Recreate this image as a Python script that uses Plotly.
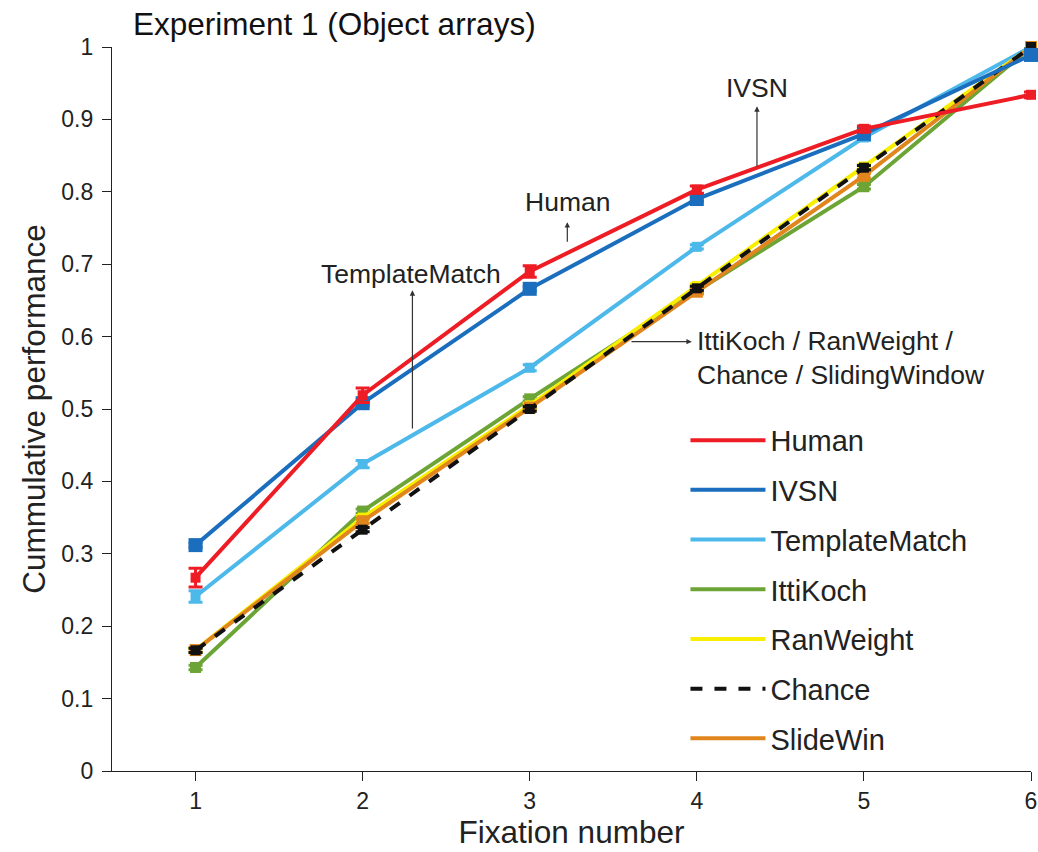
import plotly.graph_objects as go

fixation = [1, 2, 3, 4, 5, 6]
human = [0.267, 0.519, 0.690, 0.803, 0.887, 0.934]
human_err = [0.013, 0.010, 0.008, 0.005, 0.004, 0.004]
ivsn = [0.312, 0.508, 0.666, 0.790, 0.880, 0.989]
template = [0.241, 0.424, 0.557, 0.724, 0.875, 1.0]
template_err = [0.008, 0.005, 0.004, 0.003, 0.004, 0.0]
itti = [0.143, 0.359, 0.514, 0.663, 0.807, 1.0]
ranweight = [0.167, 0.350, 0.505, 0.670, 0.835, 1.0]
chance = [0.1667, 0.3333, 0.5, 0.6667, 0.8333, 1.0]
slidewin = [0.167, 0.345, 0.502, 0.662, 0.822, 1.0]

series = [
    ("TemplateMatch", template, template_err, "#4db8ea", "solid", 3, 10),
    ("IttiKoch", itti, None, "#6ca535", "solid", 4, 11),
    ("RanWeight", ranweight, None, "#f7ee00", "solid", 5, 10),
    ("SlideWin", slidewin, None, "#e0861c", "solid", 7, 12),
    ("Chance", chance, None, "#111111", "dash", 6, 10),
    ("IVSN", ivsn, None, "#1b6ebd", "solid", 2, 14),
    ("Human", human, human_err, "#ee1c24", "solid", 1, 10),
]

fig = go.Figure()
for name, vals, err, col, dash, rank, msize in series:
    fig.add_trace(go.Scatter(
        x=fixation, y=vals, mode="lines", name=name,
        line=dict(color=col, width=4, dash=dash),
        legendrank=rank, legendgroup=name, cliponaxis=False,
    ))
    fig.add_trace(go.Scatter(
        x=fixation, y=vals, mode="markers", showlegend=False,
        marker=dict(symbol="square", size=msize, color=col),
        error_y=dict(type="data", array=err if err else [0.003] * 6,
                     color=col, thickness=3, width=7),
        legendgroup=name, cliponaxis=False, hoverinfo="skip",
    ))

font = "Liberation Sans, Arial, sans-serif"

ann_font = dict(family=font, size=26.5, color="#222")
arrows = [
    # text, text x, text y, tail x, tail y, tip x, tip y
    ("IVSN", 4.36, 0.943, 4.36, 0.833, 4.36, 0.918),
    ("Human", 3.225, 0.786, 3.225, 0.729, 3.225, 0.758),
    ("TemplateMatch", 2.29, 0.686, 2.298, 0.471, 2.298, 0.664),
]
for txt, tx, ty, x0, y0, x1, y1 in arrows:
    fig.add_annotation(x=tx, y=ty, text=txt, showarrow=False, font=ann_font,
                       xanchor="center", yanchor="middle")
    fig.add_annotation(x=x1, y=y1, ax=x0, ay=y0, xref="x", yref="y",
                       axref="x", ayref="y", text="", showarrow=True,
                       arrowhead=2, arrowsize=0.9, arrowwidth=1.2, arrowcolor="#333")

fig.add_annotation(x=3.99, y=0.571,
                   text="IttiKoch / RanWeight /<br>Chance / SlidingWindow",
                   showarrow=False, font=ann_font, xanchor="left", yanchor="middle",
                   align="left")
fig.add_annotation(x=3.97, y=0.593, ax=3.60, ay=0.593, xref="x", yref="y",
                   axref="x", ayref="y", text="", showarrow=True,
                   arrowhead=2, arrowsize=0.9, arrowwidth=1.2, arrowcolor="#333")

fig.update_layout(
    width=1038, height=852,
    margin=dict(l=112, r=7, t=47, b=81),
    paper_bgcolor="white", plot_bgcolor="white",
    font=dict(family=font, size=22, color="#222"),
    title=dict(text="Experiment 1 (Object arrays)", x=133 / 1038, xanchor="left",
               y=1 - 24 / 852, yanchor="middle", font=dict(size=31.5, color="#111")),
    showlegend=True,
    legend=dict(x=0.624, y=0.492, xanchor="left", yanchor="top",
                font=dict(size=29, color="#222"), bgcolor="rgba(0,0,0,0)",
                traceorder="grouped", tracegroupgap=9, itemwidth=75),
    xaxis=dict(range=[0.5, 6], tickvals=fixation, showgrid=False, zeroline=False,
               showline=True, linecolor="#222", linewidth=1.2, ticks="outside",
               ticklen=9, tickcolor="#222", tickfont=dict(size=23), automargin=False,
               title=dict(text="Fixation number", font=dict(size=31.5), standoff=6)),
    yaxis=dict(range=[0, 1], tickvals=[i / 10 for i in range(11)],
               ticktext=["0"] + [f"0.{i}" for i in range(1, 10)] + ["1"],
               showgrid=False, zeroline=False, showline=True, linecolor="#222",
               linewidth=1.2, ticks="outside", ticklen=9, tickcolor="#222",
               tickfont=dict(size=23), automargin=False, ticklabelstandoff=4,
               title=dict(text="Cummulative performance", font=dict(size=31.5), standoff=6)),
)

fig.write_html("out.html")
